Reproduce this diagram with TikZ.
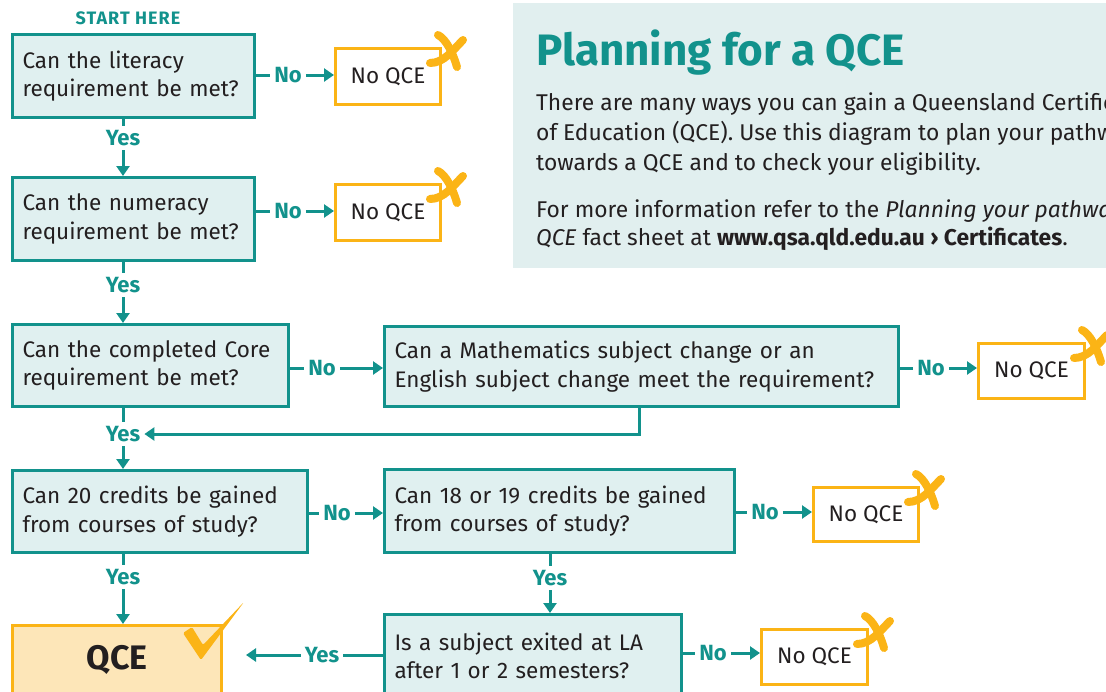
\documentclass[tikz,border=0pt]{standalone}
\usepackage{fontspec}
\setmainfont{Fira Sans}
\usetikzlibrary{arrows.meta}
\definecolor{tealc}{HTML}{12928C}
\definecolor{tealfill}{HTML}{E0F0F0}
\definecolor{panelfill}{HTML}{E1EFEF}
\definecolor{orangec}{HTML}{FBB416}
\definecolor{qcefill}{HTML}{FDE6B8}
\definecolor{txt}{HTML}{231F20}
\tikzset{
  qbox/.style={draw=tealc, line width=3pt, fill=tealfill, align=left, anchor=north west,
    inner xsep=10pt, inner ysep=0pt, text=txt, font=\fontsize{22.5}{28.5}\selectfont},
  nobox/.style={draw=orangec, line width=3pt, fill=white, anchor=north west,
    text=txt, font=\fontsize{22.5}{28}\selectfont},
  lab/.style={text=tealc, font=\bfseries\fontsize{22}{22}\selectfont, inner sep=4pt},
  ln/.style={draw=tealc, line width=3pt},
  arr/.style={draw=tealc, line width=3pt, -{Triangle[length=10pt,width=13pt]}},
  body/.style={anchor=base west, inner sep=0pt, text=txt, font=\fontsize{22.8}{28}\selectfont},
  xstroke/.style={draw=orangec, line width=8pt, line cap=round},
}
\newcommand\xmarkat[1]{%
  \draw[xstroke] (#1) ++(-4,-12) .. controls +(8,4) and +(-4,-14) .. ++(19,32);
  \draw[xstroke] (#1) ++(21,-7) .. controls +(-10,10) and +(14,0) .. ++(-33,23);
}
\begin{document}
\begin{tikzpicture}[x=1pt,y=-1pt]
\useasboundingbox (0,0) rectangle (1106,691);
% info panel
\fill[panelfill] (513,3) rectangle (1110,268);
\node[anchor=base west, inner sep=0pt, text=tealc, font=\bfseries\fontsize{44}{44}\selectfont] (title) at (536,65) {Planning for a QCE};
\node[body] (p1) at (536,110) {There are many ways you can gain a Queensland Certificate};
\node[body] (p2) at (536,140) {of Education (QCE). Use this diagram to plan your pathway};
\node[body] (p3) at (536,170) {towards a QCE and to check your eligibility.};
\node[body] (p4) at (536,217) {For more information refer to the \textit{Planning your pathway to a}};
\node[body] (p5) at (536,245) {\textit{QCE} fact sheet at \textbf{www.qsa.qld.edu.au › Certificates}.};

% start
\node[text=tealc, font=\bfseries\fontsize{18}{18}\selectfont\addfontfeature{LetterSpace=6}, inner sep=0pt] (st) at (128,18) {START HERE};

% question boxes
\node[qbox, text width=222pt, minimum height=83pt] (b1) at (11,33) {Can the literacy\\requirement be met?};
\node[qbox, text width=222pt, minimum height=83pt] (b2) at (11,176) {Can the numeracy\\requirement be met?};
\node[qbox, text width=256pt, minimum height=82pt] (b3) at (11,323) {Can the completed Core\\requirement be met?};
\node[qbox, text width=494pt, minimum height=80pt] (b4) at (383,325) {Can a Mathematics subject change or an\\English subject change meet the requirement?};
\node[qbox, text width=275pt, minimum height=82pt] (b5) at (11,469) {Can 20 credits be gained\\from courses of study?};
\node[qbox, text width=330pt, minimum height=83pt] (b6) at (383,468) {Can 18 or 19 credits be gained\\from courses of study?};
\node[qbox, text width=277pt, minimum height=83pt] (b7) at (383,613) {Is a subject exited at LA\\after 1 or 2 semesters?};

% outcome boxes
\node[nobox, minimum width=105pt, minimum height=56pt] (q1) at (334,47) {No QCE};
\node[nobox, minimum width=105pt, minimum height=56pt] (q2) at (334,183) {No QCE};
\node[nobox, minimum width=106pt, minimum height=55pt] (q3) at (977,342) {No QCE};
\node[nobox, minimum width=105pt, minimum height=54pt] (q4) at (812,486) {No QCE};
\node[nobox, minimum width=106pt, minimum height=55pt] (q5) at (760,628) {No QCE};
\node[draw=orangec, line width=3pt, fill=qcefill, anchor=north west, minimum width=209pt, minimum height=68pt,
  text=txt, font=\bfseries\fontsize{34}{34}\selectfont] (qce) at (11,624) {QCE};

% x marks
\xmarkat{q1.north east}
\xmarkat{q2.north east}
\xmarkat{q3.north east}
\xmarkat{q4.north east}
\xmarkat{q5.north east}
% check mark
\fill[orangec, rounded corners=1.5pt] (183,633) -- (192,627) -- (203,645) -- (244,602) -- (201,660) -- cycle;

% labels
\node[lab] (n1) at (288,75) {No};
\node[lab] (n2) at (288,211) {No};
\node[lab] (n3) at (322,368) {No};
\node[lab] (n4) at (931,368) {No};
\node[lab] (n5) at (337,513) {No};
\node[lab] (n6) at (765,512) {No};
\node[lab] (n7) at (713,653) {No};
\node[lab] (y1) at (123,138) {Yes};
\node[lab] (y2) at (123,285) {Yes};
\node[lab] (y3) at (123,434) {Yes};
\node[lab] (y4) at (123,577) {Yes};
\node[lab] (y5) at (550,578) {Yes};
\node[lab] (y6) at (322,655) {Yes};
\coordinate (c4) at (639,436);
\coordinate (t6) at (246,655);

% connectors: No
\foreach \b/\n/\q in {b1/n1/q1, b2/n2/q2, b3/n3/b4, b4/n4/q3, b5/n5/b6, b6/n6/q4, b7/n7/q5}{
  \draw[ln] (\b.east |- \n.west) -- (\n.west);
  \draw[arr] (\n.east) -- (\q.west |- \n.east);
}
% connectors: Yes (vertical)
\foreach \b/\y/\c in {b1/y1/b2, b2/y2/b3, b3/y3/b5, b5/y4/qce, b6/y5/b7}{
  \draw[ln] (\b.south -| \y) -- (\y.north);
  \draw[arr] (\y.south) -- (\c.north -| \y);
}
\draw[arr] (b4.south -| c4) |- (y3.east);
\draw[ln] (b7.west |- y6.east) -- (y6.east);
\draw[arr] (y6.west) -- (t6 |- y6.west);
\end{tikzpicture}
\end{document}
